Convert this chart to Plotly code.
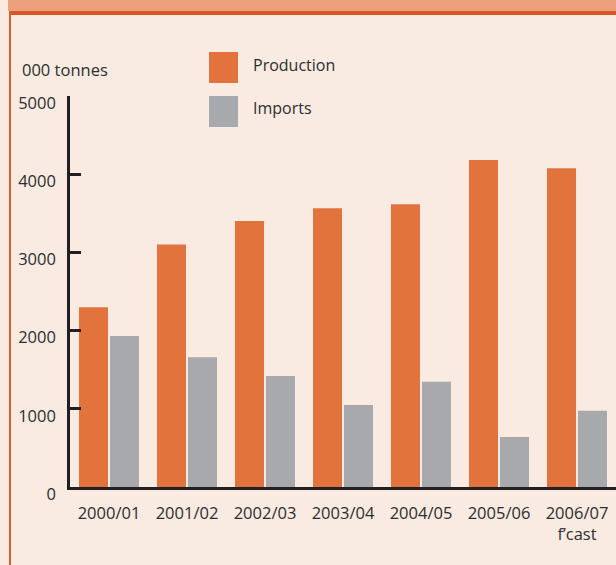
import plotly.graph_objects as go

categories = ["2000/01", "2001/02", "2002/03", "2003/04", "2004/05", "2005/06", "2006/07<br>f\u2019cast"]
production = [2300, 3100, 3400, 3565, 3615, 4180, 4075]
imports = [1930, 1660, 1420, 1050, 1345, 640, 975]
y_ticks = [0, 1000, 2000, 3000, 4000, 5000]

ORANGE = "#E2733D"
GREY = "#A8A9AD"
BG = "#F9EBE2"
TXT = "#2E2E2E"
AX = "#231F20"
FS = 16.5

W, H = 616, 565
ML, MR, MT, MB = 70, 0, 96, 78
PW = W - ML - MR
PH = H - MT - MB


def px(x):
    return (x - ML) / PW


def py(y):
    return (H - MB - y) / PH


fig = go.Figure()
fig.add_trace(go.Bar(x=categories, y=production, name="Production", marker=dict(color=ORANGE, line=dict(width=0))))
fig.add_trace(go.Bar(x=categories, y=imports, name="Imports", marker=dict(color=GREY, line=dict(width=0))))

shapes = [
    # top band
    dict(type="rect", xref="paper", yref="paper", x0=px(8), x1=px(620), y0=py(11), y1=py(-5),
         fillcolor="#ECA07B", line=dict(width=0), layer="above"),
    dict(type="rect", xref="paper", yref="paper", x0=px(9), x1=px(620), y0=py(15), y1=py(11),
         fillcolor="#D95426", line=dict(width=0), layer="above"),
    # left vertical line
    dict(type="rect", xref="paper", yref="paper", x0=px(9), x1=px(11), y0=py(570), y1=py(11),
         fillcolor="#DF5F2B", line=dict(width=0), layer="above"),
    # legend swatches
    dict(type="rect", xref="paper", yref="paper", x0=px(209), x1=px(238), y0=py(83), y1=py(52),
         fillcolor=ORANGE, line=dict(width=0)),
    dict(type="rect", xref="paper", yref="paper", x0=px(209), x1=px(238), y0=py(127), y1=py(96),
         fillcolor=GREY, line=dict(width=0)),
]

annotations = [
    dict(text="000 tonnes", xref="paper", yref="paper", x=px(20), y=py(69), xanchor="left", yanchor="middle",
         showarrow=False, font=dict(size=FS, color=TXT)),
    dict(text="Production", xref="paper", yref="paper", x=px(251), y=py(65), xanchor="left", yanchor="middle",
         showarrow=False, font=dict(size=16, color=TXT)),
    dict(text="Imports", xref="paper", yref="paper", x=px(251), y=py(108), xanchor="left", yanchor="middle",
         showarrow=False, font=dict(size=16, color=TXT)),
]

fig.update_layout(
    width=W, height=H,
    margin=dict(l=ML, r=MR, t=MT, b=MB, pad=0),
    paper_bgcolor=BG, plot_bgcolor=BG,
    font=dict(family="Open Sans", size=FS, color=TXT),
    barmode="group", bargap=0.205, bargroupgap=0.065,
    showlegend=False,
    shapes=shapes, annotations=annotations,
    xaxis=dict(showline=True, linewidth=2.5, linecolor=AX, ticks="", showgrid=False, zeroline=False,
               range=[-0.5, 6.5], tickfont=dict(size=FS, color=TXT), ticklabelstandoff=9),
    yaxis=dict(range=[0, 5000], tickvals=y_ticks, ticktext=[str(v) for v in y_ticks],
               showline=True, linewidth=2.5, linecolor=AX, ticks="inside", ticklen=11, tickwidth=2.5,
               tickcolor=AX, showgrid=False, zeroline=False, tickfont=dict(size=FS, color=TXT),
               ticklabelstandoff=8, ticklabelshift=7),
)

fig.write_html(
    "out.html",
    config={"displayModeBar": False},
    post_script="document.body.style.margin='0';document.body.style.background='#F9EBE2';",
)
